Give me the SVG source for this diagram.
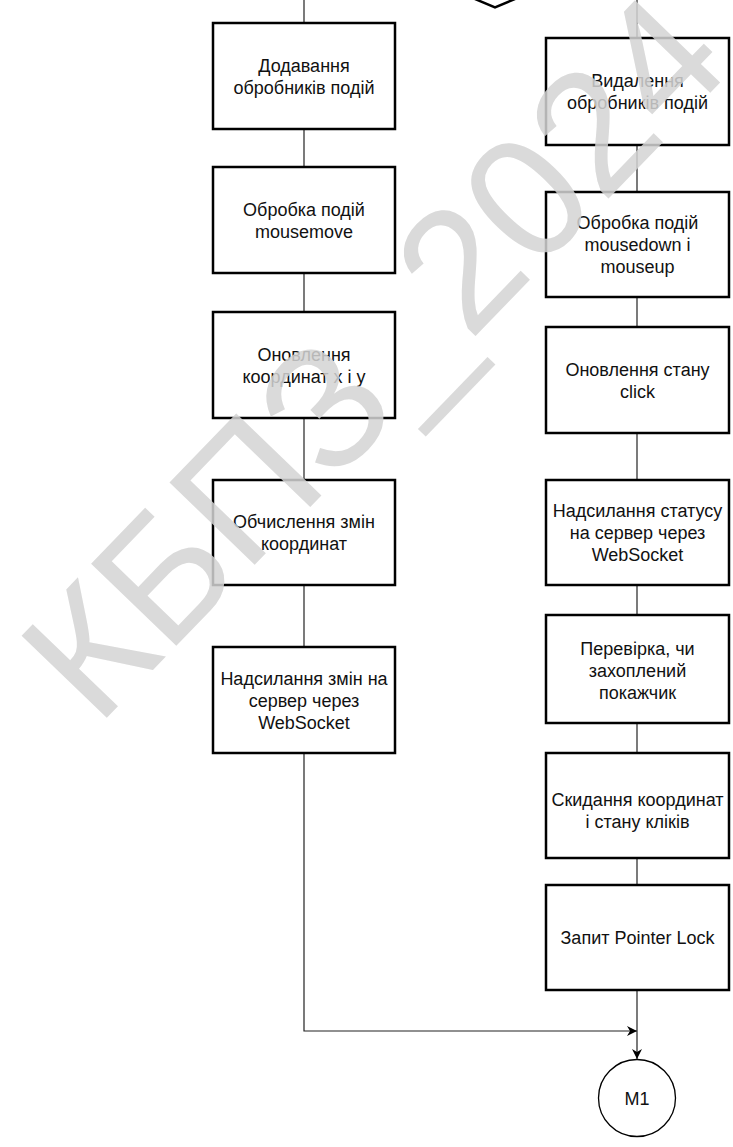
<svg xmlns="http://www.w3.org/2000/svg" width="733" height="1147" viewBox="0 0 733 1147">
<defs>
<style>
.box{fill:#ffffff;stroke:#000000;stroke-width:2.5}
.lbl{font-family:"Liberation Sans",Arial,sans-serif;font-size:18px;fill:#111111;text-anchor:middle}
.con{fill:none;stroke:#222222;stroke-width:1.2}
.wm{font-family:"Liberation Sans",Arial,sans-serif;font-size:172px;fill:#d4d4d4;opacity:0.85}
</style>
<marker id="arr" viewBox="0 0 10 10" refX="10" refY="5" markerWidth="10" markerHeight="10" markerUnits="userSpaceOnUse" orient="auto">
<path d="M0,0 L10,5 L0,10 L3,5 Z" fill="#000000"/>
</marker>
</defs>
<rect x="0" y="0" width="733" height="1147" fill="#ffffff"/>
<g id="connectors">
<line class="con" x1="304" y1="0" x2="304" y2="23"/>
<line class="con" x1="304" y1="129" x2="304" y2="167"/>
<line class="con" x1="304" y1="273" x2="304" y2="312"/>
<line class="con" x1="304" y1="418" x2="304" y2="480"/>
<line class="con" x1="304" y1="585" x2="304" y2="647"/>
<polyline class="con" points="304,753 304,1031 637,1031" marker-end="url(#arr)"/>
<line class="con" x1="637" y1="0" x2="637" y2="38"/>
<line class="con" x1="637" y1="145" x2="637" y2="192"/>
<line class="con" x1="637" y1="297" x2="637" y2="327"/>
<line class="con" x1="637" y1="433" x2="637" y2="480"/>
<line class="con" x1="637" y1="585" x2="637" y2="615"/>
<line class="con" x1="637" y1="723" x2="637" y2="753"/>
<line class="con" x1="637" y1="858" x2="637" y2="885"/>
<line class="con" x1="637" y1="990" x2="637" y2="1059" marker-end="url(#arr)"/>
</g>
<g id="decision-top">
<polyline points="468,-4 495,7.5 522,-4" fill="#ffffff" stroke="#000000" stroke-width="2.5"/>
</g>
<g id="L1"><rect class="box" x="213" y="23" width="182" height="106"/>
<text class="lbl" x="304" y="71.5">Додавання</text><text class="lbl" x="304" y="93.5">обробників подій</text></g>
<g id="L2"><rect class="box" x="213" y="167" width="182" height="106"/>
<text class="lbl" x="304" y="215.5">Обробка подій</text><text class="lbl" x="304" y="237.5">mousemove</text></g>
<g id="L3"><rect class="box" x="213" y="312" width="182" height="106"/>
<text class="lbl" x="304" y="360.5">Оновлення</text><text class="lbl" x="304" y="382.5">координат x і y</text></g>
<g id="L4"><rect class="box" x="213" y="480" width="182" height="105"/>
<text class="lbl" x="304" y="528">Обчислення змін</text><text class="lbl" x="304" y="550">координат</text></g>
<g id="L5"><rect class="box" x="213" y="647" width="182" height="106"/>
<text class="lbl" x="304" y="684.5">Надсилання змін на</text><text class="lbl" x="304" y="706.5">сервер через</text><text class="lbl" x="304" y="728.5">WebSocket</text></g>
<g id="R1"><rect class="box" x="546" y="38" width="183" height="107"/>
<text class="lbl" x="637.5" y="86.5">Видалення</text><text class="lbl" x="637.5" y="108.5">обробників подій</text></g>
<g id="R2"><rect class="box" x="546" y="192" width="183" height="105"/>
<text class="lbl" x="637.5" y="229">Обробка подій</text><text class="lbl" x="637.5" y="251">mousedown і</text><text class="lbl" x="637.5" y="273">mouseup</text></g>
<g id="R3"><rect class="box" x="546" y="327" width="183" height="106"/>
<text class="lbl" x="637.5" y="375.5">Оновлення стану</text><text class="lbl" x="637.5" y="397.5">click</text></g>
<g id="R4"><rect class="box" x="546" y="480" width="183" height="105"/>
<text class="lbl" x="637.5" y="517">Надсилання статусу</text><text class="lbl" x="637.5" y="539">на сервер через</text><text class="lbl" x="637.5" y="561">WebSocket</text></g>
<g id="R5"><rect class="box" x="546" y="615" width="183" height="108"/>
<text class="lbl" x="637.5" y="654.5">Перевірка, чи</text><text class="lbl" x="637.5" y="676.5">захоплений</text><text class="lbl" x="637.5" y="698.5">покажчик</text></g>
<g id="R6"><rect class="box" x="546" y="753" width="183" height="105"/>
<text class="lbl" x="637.5" y="806">Скидання координат</text><text class="lbl" x="637.5" y="828">і стану кліків</text></g>
<g id="R7"><rect class="box" x="546" y="885" width="183" height="105"/>
<text class="lbl" x="637.5" y="944">Запит Pointer Lock</text></g>
<g id="M1"><circle cx="637" cy="1098" r="38.5" fill="#ffffff" stroke="#000000" stroke-width="1.3"/>
<text class="lbl" x="637" y="1104.5">M1</text></g>
<g id="watermark"><text class="wm" x="0" y="0" transform="translate(97,728) rotate(-46)">КБПЗ_2024</text></g>
</svg>
